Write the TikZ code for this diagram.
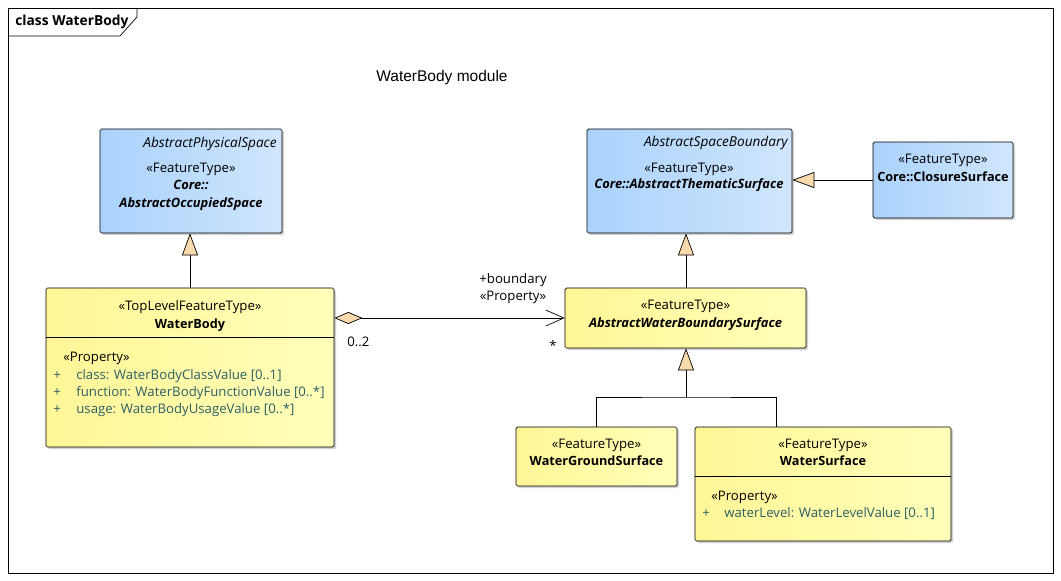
\documentclass[tikz,border=0pt]{standalone}
\usepackage{fontspec}
\setmainfont{Open Sans}
\newfontfamily\ttlfont{Liberation Sans}
\usetikzlibrary{calc,shadows,arrows.meta,positioning}
\definecolor{ylwL}{RGB}{255,246,150}
\definecolor{ylwR}{RGB}{255,255,185}
\definecolor{bluL}{RGB}{170,210,252}
\definecolor{bluR}{RGB}{208,230,252}
\definecolor{tri}{RGB}{248,218,172}
\definecolor{attr}{RGB}{45,95,105}

\begin{document}
\begin{tikzpicture}[x=1pt,y=-1pt,line width=0.7pt,
    font=\fontsize{13.2}{15}\selectfont,
    cls/.style={draw,rounded corners=1.5pt,inner sep=0pt,
      drop shadow={shadow xshift=2pt,shadow yshift=-2pt,fill=black!40,opacity=.45}},
    yel/.style={cls,left color=ylwL,right color=ylwR},
    blu/.style={cls,left color=bluL,right color=bluR},
    txt/.style={inner sep=0pt,anchor=base},
    ltxt/.style={inner sep=0pt,anchor=base west},
    rtxt/.style={inner sep=0pt,anchor=base east},
    bf/.style={font=\fontsize{12.7}{15}\selectfont\bfseries},
    bi/.style={font=\fontsize{12.9}{15}\selectfont\bfseries\itshape},
    it/.style={font=\fontsize{13.6}{15}\selectfont\itshape},
    gen/.style={-{Triangle[width=16pt,length=22pt,fill=tri]}},
    agg/.style={{Diamond[width=12pt,length=28pt,fill=tri]}-{Straight Barb[width=16pt,length=18pt]}}]
    \useasboundingbox (0,0) rectangle (1061,581);
    \fill[white] (0,0) rectangle (1061,581);
    % frame
    \draw (8,8) rectangle (1053,573);
    \draw (8,36) -- (120,36) -- (137,17) -- (137,8);
    \node[ltxt,font=\fontsize{13.8}{15}\selectfont\bfseries] (frm) at (15,25) {class WaterBody};
    \node[txt,font=\fontsize{15.5}{17}\ttlfont] (ttl) at (442,81) {WaterBody module};
    % classes
    \node[blu,minimum width=182pt,minimum height=104pt] (aos) at (191,181) {};
    \node[blu,minimum width=205pt,minimum height=104pt] (ast) at (689.5,181) {};
    \node[blu,minimum width=140pt,minimum height=76pt] (cs) at (943,180) {};
    \node[yel,minimum width=288pt,minimum height=159pt] (wb) at (190,367.5) {};
    \node[yel,minimum width=241pt,minimum height=60pt] (awbs) at (685.5,318) {};
    \node[yel,minimum width=161pt,minimum height=59pt] (wgs) at (596.5,456.5) {};
    \node[yel,minimum width=256pt,minimum height=114pt] (ws) at (823,484) {};
    \draw (wb.west |- 0,337) -- (wb.east |- 0,337);
    \draw (ws.west |- 0,476) -- (ws.east |- 0,476);
    % texts
    \node[rtxt,it] (aosP) at (277,147) {AbstractPhysicalSpace};
    \node[txt] (aosS) at (191,172) {«FeatureType»};
    \node[txt,bi] (aosN1) at (191,189) {Core::};
    \node[txt,bi] (aosN2) at (191,207) {AbstractOccupiedSpace};
    \node[rtxt,it] (astP) at (788,146) {AbstractSpaceBoundary};
    \node[txt] (astS) at (689,172) {«FeatureType»};
    \node[txt,bi] (astN) at (689,188) {Core::AbstractThematicSurface};
    \node[txt] (csS) at (943,163) {«FeatureType»};
    \node[txt,bf] (csN) at (943,181) {Core::ClosureSurface};
    \node[txt] (wbS) at (190,310) {«TopLevelFeatureType»};
    \node[txt,bf] (wbN) at (190,328) {WaterBody};
    \node[ltxt] (wbP) at (63,361) {«Property»};
    \node[ltxt,text=attr] (wbA1) at (53,379) {+};
    \node[ltxt,text=attr] (wbA2) at (53,396) {+};
    \node[ltxt,text=attr] (wbA3) at (53,413) {+};
    \node[ltxt,text=attr] (wbT1) at (76,379) {class: WaterBodyClassValue [0..1]};
    \node[ltxt,text=attr] (wbT2) at (76,396) {function: WaterBodyFunctionValue [0..*]};
    \node[ltxt,text=attr] (wbT3) at (76,413) {usage: WaterBodyUsageValue [0..*]};
    \node[txt] (awbsS) at (685.5,309) {«FeatureType»};
    \node[txt,bi] (awbsN) at (685.5,327) {AbstractWaterBoundarySurface};
    \node[txt] (wgsS) at (596.5,448) {«FeatureType»};
    \node[txt,bf] (wgsN) at (596.5,465) {WaterGroundSurface};
    \node[txt] (wsS) at (823,448) {«FeatureType»};
    \node[txt,bf] (wsN) at (823,465) {WaterSurface};
    \node[ltxt] (wsP) at (711,500) {«Property»};
    \node[ltxt,text=attr] (wsA1) at (702,517) {+};
    \node[ltxt,text=attr] (wsT1) at (724,517) {waterLevel: WaterLevelValue [0..1]};
    % connectors
    \coordinate (split) at (686,397);
    \coordinate (wsTop) at (776,427);
    \draw[gen] (wb.north) -- (wb.north |- aos.south);
    \draw[gen] (split |- awbs.north) -- (split |- ast.south);
    \draw[gen] (cs.west) -- (cs.west -| ast.east);
    \draw[gen] (split) -- (split |- awbs.south);
    \draw (wgs.north) |- (split) -| (wsTop);
    \draw[agg] (wb.east |- awbs.west) -- (awbs.west);
    \node[ltxt] (m1) at (347,346) {0..2};
    \node[ltxt] (m2) at (549,350) {*};
    \node[txt] (rl1) at (513,283) {+boundary};
    \node[txt] (rl2) at (513,300) {«Property»};
\end{tikzpicture}
\end{document}
